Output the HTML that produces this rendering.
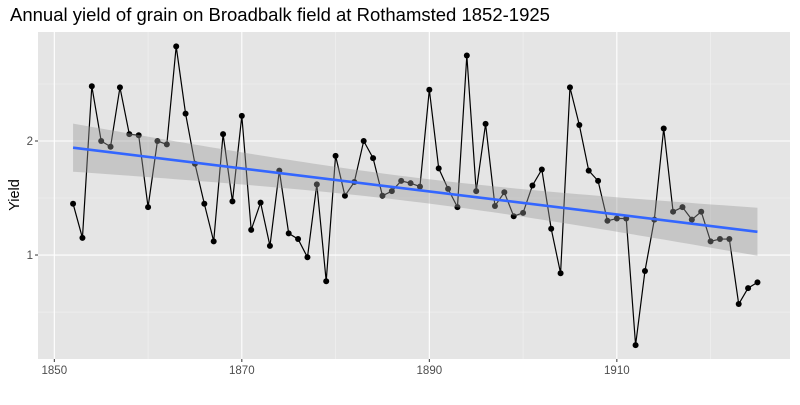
<!DOCTYPE html>
<html><head><meta charset="utf-8"><style>
body{margin:0;background:#fff;width:800px;height:400px;overflow:hidden}
text{font-family:"Liberation Sans",sans-serif}
</style></head><body>
<svg id="c" width="800" height="400"></svg>
<script>
const years=[];for(let y=1852;y<=1925;y++)years.push(y);
const yields=[1.45,1.15,2.48,2.00,1.95,2.47,2.06,2.05,1.42,2.00,1.97,2.83,2.24,1.80,1.45,1.12,2.06,1.47,2.22,1.22,1.46,1.08,1.74,1.19,1.14,0.98,1.62,0.77,1.87,1.52,1.64,2.00,1.85,1.52,1.56,1.65,1.63,1.60,2.45,1.76,1.58,1.42,2.75,1.56,2.15,1.43,1.55,1.34,1.37,1.61,1.75,1.23,0.84,2.47,2.14,1.74,1.65,1.30,1.32,1.32,0.21,0.86,1.31,2.11,1.38,1.42,1.31,1.38,1.12,1.14,1.14,0.57,0.71,0.76];
const xTicks=[1850,1870,1890,1910];
const xMinor=[1860,1880,1900,1920];
const yTicks=[1,2];
const yMinor=[0.5,1.5,2.5];
const X0=38,X1=790,Y0=32,Y1=359;
const xmin=1848.26,xmax=1928.47,ymin=0.088,ymax=2.956;
const sx=v=>X0+(v-xmin)/(xmax-xmin)*(X1-X0);
const sy=v=>Y1-(v-ymin)/(ymax-ymin)*(Y1-Y0);
const svg=document.getElementById('c');const NS='http://www.w3.org/2000/svg';
function el(t,a,p){const e=document.createElementNS(NS,t);for(const k in a)e.setAttribute(k,a[k]);(p||svg).appendChild(e);return e;}
const t=el('text',{x:10,y:21,'font-size':18.5,fill:'#000'});


t.textContent='Annual yield of grain on Broadbalk field at Rothamsted 1852-1925';
const bg=el('rect',{x:X0,y:Y0,width:X1-X0,height:Y1-Y0,fill:'#e5e5e5'});


xMinor.forEach(v=>{const l=el('line',{x1:sx(v),x2:sx(v),y1:Y0,y2:Y1,stroke:'#f2f2f2','stroke-width':0.6});});
yMinor.forEach(v=>{const l=el('line',{x1:X0,x2:X1,y1:sy(v),y2:sy(v),stroke:'#f2f2f2','stroke-width':0.6});});
xTicks.forEach(v=>{const l=el('line',{x1:sx(v),x2:sx(v),y1:Y0,y2:Y1,stroke:'#fff','stroke-width':1.1});
const k=el('line',{x1:sx(v),x2:sx(v),y1:Y1,y2:Y1+3,stroke:'#333'});
const tx=el('text',{x:sx(v),y:Y1+15,'font-size':11.5,fill:'#4d4d4d','text-anchor':'middle'});tx.textContent=v;});
yTicks.forEach(v=>{const l=el('line',{x1:X0,x2:X1,y1:sy(v),y2:sy(v),stroke:'#fff','stroke-width':1.1});
const k=el('line',{x1:X0-3,x2:X0,y1:sy(v),y2:sy(v),stroke:'#333'});
const tx=el('text',{x:X0-5,y:sy(v)+4,'font-size':11.5,fill:'#4d4d4d','text-anchor':'end'});tx.textContent=v;});
const yl=el('text',{x:0,y:0,'font-size':14.5,fill:'#000','text-anchor':'middle',transform:'translate(19,195) rotate(-90)'});
yl.textContent='Yield';
const ln=el('polyline',{points:years.map((y,i)=>sx(y)+','+sy(yields[i])).join(' '),fill:'none',stroke:'#000','stroke-width':1.2});

years.forEach((y,i)=>{const c=el('circle',{cx:sx(y),cy:sy(yields[i]),r:3,fill:'#000'});});
const n=years.length,mx=years.reduce((a,b)=>a+b)/n,my=yields.reduce((a,b)=>a+b)/n;
let sxx=0,sxy=0;years.forEach((y,i)=>{sxx+=(y-mx)**2;sxy+=(y-mx)*(yields[i]-my);});
const b=sxy/sxx,a=my-b*mx;let sse=0;years.forEach((y,i)=>{sse+=(yields[i]-a-b*y)**2;});
const s=Math.sqrt(sse/(n-2)),tq=1.993;
const xs=[];for(let k=0;k<=80;k++)xs.push(years[0]+(years[n-1]-years[0])*k/80);
const up=xs.map(x=>a+b*x+tq*s*Math.sqrt(1/n+(x-mx)**2/sxx));
const lo=xs.map(x=>a+b*x-tq*s*Math.sqrt(1/n+(x-mx)**2/sxx));
const rb=el('polygon',{points:xs.map((x,i)=>sx(x)+','+sy(up[i])).concat(xs.slice().reverse().map((x,i)=>sx(x)+','+sy(lo[xs.length-1-i]))).join(' '),fill:'#999','fill-opacity':0.4});

const rl=el('line',{x1:sx(years[0]),y1:sy(a+b*years[0]),x2:sx(years[n-1]),y2:sy(a+b*years[n-1]),stroke:'#3366ff','stroke-width':2.6});

</script>
</body></html>
